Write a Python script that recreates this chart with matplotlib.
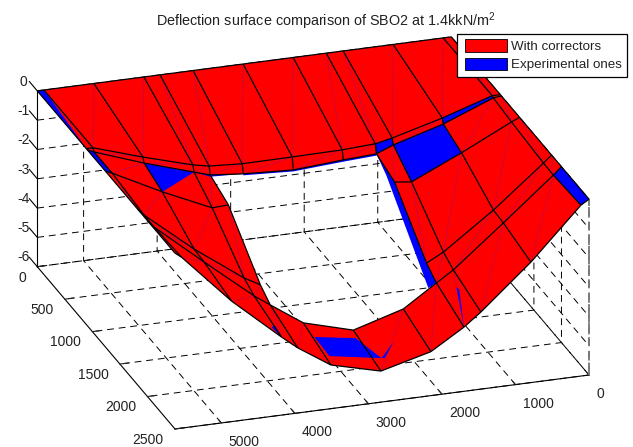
import numpy as np
import matplotlib
matplotlib.use('Agg')
import matplotlib.pyplot as plt
from matplotlib.patches import Patch
from matplotlib.legend_handler import HandlerPatch
from mpl_toolkits.mplot3d.art3d import Poly3DCollection, Line3DCollection
from mpl_toolkits.mplot3d import proj3d

plt.rcParams['font.family'] = ['Liberation Sans', 'DejaVu Sans']
plt.rcParams['mathtext.default'] = 'regular'
plt.rcParams['axes.unicode_minus'] = False
plt.rcParams['grid.color'] = 'black'
plt.rcParams['grid.linestyle'] = (0, (7, 5))
plt.rcParams['grid.linewidth'] = 0.7

n = np.nan
title = 'Deflection surface comparison of SBO2 at 1.4kkN/m$^2$'
labels = ['With correctors', 'Experimental ones']
x_ticks = [0, 1000, 2000, 3000, 4000, 5000]
y_ticks = [0, 500, 1000, 1500, 2000, 2500]
z_ticks = [-6, -5, -4, -3, -2, -1, 0]

x_mesh = [0, 110, 790, 1470, 1700, 2150, 2830, 3510, 3960, 4180, 4860, 5540, 5630]
y_mesh = [0, 890, 910, 1240, 1820, 2000, 2500]
z_row_0 = [0, 0, 0, 0, 0, 0, 0, 0, 0, 0, 0, 0, 0]
z_row_890 = [0, 0, -.54, -1.0, -1.12, -1.18, -1.2, -1.21, -1.14, -1.03, -.54, 0, 0]
z_row_910 = [0, -.03, -.7, -1.19, -1.42, -1.48, -1.6, -1.51, -1.40, -1.23, -.7, -.1, 0]
z_row_1240 = [0, -.12, -.95, -1.72, -1.65, n, n, n, -1.69, -1.72, -.95, -.09, 0]
z_row_1820 = [0, -.24, -1.62, -2.83, -3.13, n, n, n, -3.13, -2.83, -1.62, -.24, 0]
z_row_2000 = [0, -.25, -1.66, -3.04, -3.41, -4.15, -4.65, -4.18, -3.42, -3.04, -1.66, -.25, 0]
z_row_2500 = [0, -.17, -1.89, -3.37, -3.81, -4.5, -4.94, -4.51, -3.78, -3.34, -1.89, -.17, 0]
z_mesh = np.array([z_row_0, z_row_890, z_row_910, z_row_1240, z_row_1820, z_row_2000, z_row_2500])

# patches where the experimental surface shows: (x, y, z) corners
blue_patches = [
    [(5630, 0, 0), (5540, 0, 0), (5630, 890, 0)],
    [(5630, 890, 0), (5540, 910, -.1), (5540, 1240, -.09), (5630, 1240, 0)],
    [(4180, 910, -1.23), (4860, 910, -.7), (4860, 1240, -.95)],
    [(790, 910, -.7), (1470, 910, -1.19), (1470, 1240, -1.72), (790, 1240, -.95)],
    [(110, 890, 0), (790, 890, -.54), (790, 910, -.7), (110, 910, -.03)],
    [(1470, 890, -1.0), (1700, 890, -1.12), (1700, 910, -1.42), (1470, 910, -1.19)],
    [(1700, 910, -1.42), (2150, 910, -1.48), (2830, 910, -1.6), (3510, 910, -1.51),
     (3510, 910, -1.56), (2830, 910, -1.65), (2150, 910, -1.54), (1700, 910, -1.48)],
    [(3510, 910, -1.51), (3960, 910, -1.40), (4180, 910, -1.23), (3960, 910, -1.46)],
    [(0, 2000, 0), (0, 2500, 0), (110, 2500, -.17), (110, 2000, -.25)],
    [(1700, 910, -1.42), (1700, 1240, -1.65), (1700, 1820, -3.13), (1700, 2000, -3.41),
     (1810, 2000, -3.55), (1810, 1240, -1.4)],
    [(3510, 2200, -4.22), (2950, 2200, -4.44), (2807, 2480, -4.55), (3514, 2480, -4.25)],
    [(2807, 2480, -4.55), (2640, 2480, -4.05), (2760, 2480, -4.55)],
    [(1578, 2200, -3.15), (1700, 2500, -3.81), (1540, 2200, -3.25)],
    [(4127, 2300, -3.39), (4180, 2500, -3.34), (4165, 2300, -3.45)],
]

W, H = 633, 447
fig = plt.figure(figsize=(W / 100, H / 100), dpi=100, facecolor='white')
ax = fig.add_axes([0, 0, 1, 1], projection='3d', proj_type='ortho', computed_zorder=False)
ax.set_facecolor('none')
ax.view_init(elev=23.08, azim=71.6)
ax.set_xlim(0, 5630, view_margin=0)
ax.set_ylim(0, 2500, view_margin=0)
ax.set_zlim(-6, 0, view_margin=0)
aspect = (436, 436, 191)
ax.set_box_aspect(aspect, zoom=1.0)

ax.set_xticks(x_ticks)
ax.set_yticks(y_ticks)
ax.set_zticks(z_ticks)
for axis in (ax.xaxis, ax.yaxis, ax.zaxis):
    axis.set_pane_color((1, 1, 1, 0))
    axis.pane.set_edgecolor((1, 1, 1, 0))
    axis.line.set_color('black')
    axis.line.set_linewidth(0.8)
    axis._axinfo['tick']['inward_factor'] = 0.0
    axis._axinfo['tick']['linewidth'] = {True: 0.8, False: 0.8}
ax.xaxis._axinfo['tick']['outward_factor'] = 0.24
ax.yaxis._axinfo['tick']['outward_factor'] = 0.26
ax.zaxis._axinfo['tick']['outward_factor'] = 0.0
ax.tick_params(axis='both', labelsize=10, colors='#222222', pad=-3)
ax.grid(True)
ax.set_xticklabels([str(v) for v in x_ticks], ha='left')
ax.set_yticklabels([str(v) for v in y_ticks], ha='right')
ax.set_zticklabels([str(v) for v in z_ticks])

x_arr = np.array(x_mesh, float)
y_arr = np.array(y_mesh, float)
red, edges, diagonals = [], [], []
for j in range(len(y_arr)):
    for i in range(len(x_arr)):
        p = (x_arr[i], y_arr[j], z_mesh[j, i])
        if np.isnan(p[2]):
            continue
        if i + 1 < len(x_arr) and not np.isnan(z_mesh[j, i + 1]):
            edges.append([p, (x_arr[i + 1], y_arr[j], z_mesh[j, i + 1])])
        if j + 1 < len(y_arr) and not np.isnan(z_mesh[j + 1, i]):
            edges.append([p, (x_arr[i], y_arr[j + 1], z_mesh[j + 1, i])])
        if i + 1 < len(x_arr) and j + 1 < len(y_arr):
            cell = z_mesh[j:j + 2, i:i + 2]
            if not np.isnan(cell).any():
                q = (x_arr[i + 1], y_arr[j + 1], z_mesh[j + 1, i + 1])
                red.append([p, (x_arr[i + 1], y_arr[j], z_mesh[j, i + 1]), q,
                            (x_arr[i], y_arr[j + 1], z_mesh[j + 1, i])])
                diagonals.append([p, q])

# short z tick strokes running along y, outside the box
z_strokes = [[(5630, 0, v), (5630, -150, v)] for v in z_ticks]

layers = [
    Line3DCollection([[(0, 2500, -6), (0, 2500, 0)]], colors='#777777', linewidths=1.3,
                     linestyles=[(0, (5, 3))], zorder=2),
    Poly3DCollection(red, facecolors='#ff0000', edgecolors='none', linewidths=0, zorder=3),
    Line3DCollection(diagonals, colors=[(0.3, 0.1, 0.85, 0.45)], linewidths=0.4, zorder=4),
    Poly3DCollection(blue_patches, facecolors='#0000ff', edgecolors='none', linewidths=0, zorder=5),
    Line3DCollection(edges, colors='black', linewidths=0.9, zorder=6),
    Line3DCollection(z_strokes, colors='black', linewidths=0.8, zorder=2),
]
for layer in layers:
    ax.add_collection3d(layer)
    layer.set_clip_on(False)

handles = [Patch(facecolor='#ff0000', edgecolor='black', linewidth=0.6),
           Patch(facecolor='#0000ff', edgecolor='black', linewidth=0.6)]
leg = fig.legend(handles, labels, loc='upper right',
                 bbox_to_anchor=(627 / W, 1 - 34 / H), fontsize=9.6,
                 fancybox=False, framealpha=1, edgecolor='black',
                 handlelength=3.3, handleheight=1.05, labelspacing=0.34,
                 handletextpad=0.3, borderpad=0.4, borderaxespad=0, labelcolor='#222222',
                 handler_map={Patch: HandlerPatch(xpad=0.19)})
leg.get_frame().set_linewidth(0.9)
fig.text(326 / W, 1 - 21 / H, title, ha='center', va='center', fontsize=10.4, color='#222222')

# place the box so that its corners land where the reference has them
def corner(pt):
    xp, yp, _ = proj3d.proj_transform(pt[0], pt[1], pt[2], ax.get_proj())
    return ax.transData.transform((xp, yp))

fig.canvas.draw()
a = corner((0, 2500, -6))
b = corner((5630, 2500, -6))
scale = np.hypot(414, 54) / np.hypot(*(a - b))
ax.set_box_aspect(aspect, zoom=scale)
fig.canvas.draw()
a = corner((0, 2500, -6))
dx = 589 - a[0]
dy = (H - 375) - a[1]
ax.set_position([dx / W, dy / H, 1, 1])
fig.canvas.draw()

# fine placement of the tick labels, given in pixels
inv = ax.transData.inverted()
def nudge(label, px, py):
    delta = inv.transform((px, py)) - inv.transform((0, 0))
    original = label.set_position
    label.set_position = lambda xy: original((xy[0] + delta[0], xy[1] + delta[1]))

for axis, shift in ((ax.xaxis, (3, -2)), (ax.yaxis, (1, 3)), (ax.zaxis, (3, 13))):
    for tick in axis.get_major_ticks():
        nudge(tick.label1, *shift)

fig.savefig('out.png', dpi=100)
